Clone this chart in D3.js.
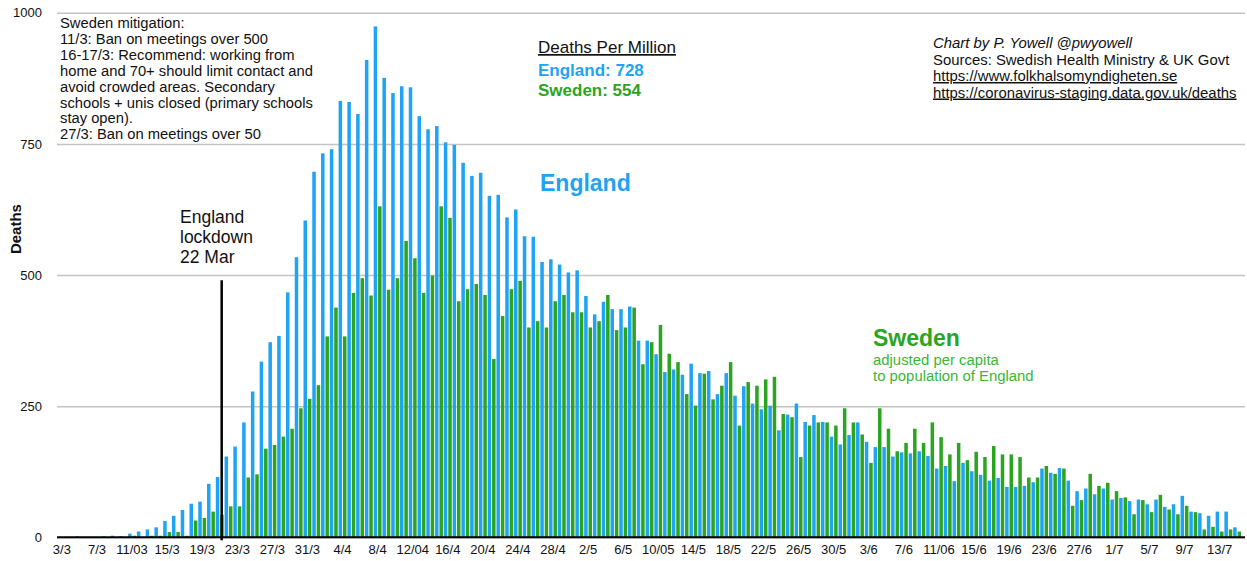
<!DOCTYPE html>
<html>
<head>
<meta charset="utf-8">
<script src="https://cdn.jsdelivr.net/npm/d3@7"></script>
<style>
  body { margin: 0; background: #fff; }
  svg { display: block; font-family: "Liberation Sans", Arial, Helvetica, sans-serif; }
</style>
</head>
<body>
<div id="chart"></div>
<script>
// daily deaths 3 Mar - 15 Jul 2020, Sweden scaled to England's population
const days = d3.timeDay.range(new Date(2020, 2, 3), new Date(2020, 6, 16));

const englandDeaths = [
    0, 0, 2, 0, 0, 2, 3, 2, 7, 11,
    15, 19, 31, 41, 52, 64, 68, 102, 115, 154,
    173, 219, 278, 335, 372, 384, 467, 534, 604, 697,
    732, 740, 832, 830, 807, 910, 974, 876, 847, 860,
    858, 803, 778, 784, 753, 748, 714, 689, 695, 651,
    653, 610, 625, 574, 573, 525, 530, 520, 505, 509,
    460, 425, 449, 435, 435, 440, 375, 375, 349, 315,
    320, 310, 331, 313, 317, 273, 313, 270, 288, 255,
    244, 251, 204, 234, 255, 220, 233, 220, 192, 177,
    195, 219, 182, 172, 172, 154, 162, 160, 164, 155,
    131, 136, 107, 142, 126, 119, 108, 113, 96, 96,
    98, 105, 131, 123, 132, 108, 88, 93, 82, 93,
    72, 75, 69, 72, 63, 72, 58, 63, 79, 49,
    46, 41, 49, 49, 19
];

const swedenDeaths = [
    0, 0, 0, 0, 0, 0, 0, 0, 3, 0,
    3, 3, 10, 10, 3, 32, 37, 49, 43, 59,
    59, 114, 120, 169, 176, 192, 207, 246, 264, 290,
    383, 438, 383, 466, 494, 461, 631, 472, 494, 565,
    532, 466, 499, 631, 609, 450, 473, 483, 462, 340,
    422, 473, 489, 400, 412, 400, 450, 462, 429, 429,
    400, 412, 462, 395, 400, 438, 330, 372, 405, 350,
    334, 273, 251, 312, 263, 289, 334, 213, 296, 289,
    301, 306, 235, 229, 153, 213, 219, 219, 213, 246,
    219, 196, 142, 246, 207, 164, 180, 207, 180, 219,
    191, 158, 180, 147, 163, 153, 174, 158, 158, 153,
    114, 114, 136, 121, 131, 60, 71, 121, 98, 104,
    88, 76, 44, 71, 48, 81, 53, 44, 60, 48,
    15, 20, 11, 15, 11
];

const tickLabels = ["3/3", "7/3", "11/03", "15/3", "19/3", "23/3", "27/3", "31/3", "4/4", "8/4",
    "12/04", "16/4", "20/4", "24/4", "28/4", "2/5", "6/5", "10/05", "14/5", "18/5", "22/5",
    "26/5", "30/5", "3/6", "7/6", "11/06", "15/6", "19/6", "23/6", "27/6", "1/7", "5/7",
    "9/7", "13/7"];

const yTicks = [0, 250, 500, 750, 1000];
const lockdownDay = new Date(2020, 2, 22);

const mitigationNotes = [
    "Sweden mitigation:",
    "11/3: Ban on meetings over 500",
    "16-17/3: Recommend: working from",
    "home and 70+ should limit contact and",
    "avoid crowded areas. Secondary",
    "schools + unis closed (primary schools",
    "stay open).",
    "27/3: Ban on meetings over 50"
];
const lockdownNote = ["England", "lockdown", "22 Mar"];
const perMillion = [
    { label: "England: 728", series: "england" },
    { label: "Sweden: 554", series: "sweden" }
];
const credits = [
    "Chart by P. Yowell @pwyowell",
    "Sources: Swedish Health Ministry & UK Govt",
    "https://www.folkhalsomyndigheten.se",
    "https://coronavirus-staging.data.gov.uk/deaths"
];

const colors = { england: "#1fa3f5", sweden: "#2ba41f" };

const chartWidth = 1247, chartHeight = 561;
const plotLeft = 57.5, plotRight = 1241.5, plotTop = 12.8, plotBottom = 537.3;

const svg = d3.select("#chart").append("svg")
    .attr("width", chartWidth)
    .attr("height", chartHeight);

let x = d3.scaleBand()
    .domain(days)
    .range([plotLeft, plotRight])
    .padding(0);

let xInner = d3.scaleBand()
    .domain(["england", "sweden"])
    .range([0, x.step()])
    .paddingInner(0.2)
    .paddingOuter(0.1);

let y = d3.scaleLinear()
    .domain([0, 1000])
    .range([plotBottom, plotTop]);

// gridlines + y labels
let yAxis = d3.axisLeft(y)
    .tickValues(yTicks)
    .tickFormat(d3.format("d"))
    .tickSize(-(1245 - 57))
    .tickPadding(15);

let yG = svg.append("g")
    .attr("transform", "translate(57,0)")
    .call(yAxis);
yG.select(".domain").remove();
yG.selectAll(".tick line")
    .attr("stroke", "#c4c4c4")
    .attr("stroke-width", 1.5);
yG.selectAll(".tick text")
    .attr("fill", "#111")
    .style("font-size", "13px");

svg.append("text")
    .attr("transform", `translate(21,${y(500) - 46}) rotate(-90)`)
    .attr("text-anchor", "middle")
    .style("font-size", "15px")
    .style("font-weight", "bold")
    .attr("fill", "#111")
    .text("Deaths");

// bars
let rows = days.map((d, i) => ({ day: d, england: englandDeaths[i], sweden: swedenDeaths[i] }));

let groups = svg.append("g").selectAll("g")
    .data(rows)
    .enter().append("g")
    .attr("transform", d => `translate(${x(d.day)},0)`);

groups.selectAll("rect")
    .data(d => ["england", "sweden"].map(k => ({ key: k, value: d[k] })))
    .enter().append("rect")
    .attr("x", d => xInner(d.key))
    .attr("width", xInner.bandwidth())
    .attr("y", d => y(d.value))
    .attr("height", d => y(0) - y(d.value))
    .attr("fill", d => colors[d.key]);

// x axis
let xAxis = d3.axisBottom(x)
    .tickValues(days.filter((d, i) => i % 4 === 0))
    .tickFormat((d, i) => tickLabels[i])
    .tickSize(0)
    .tickPadding(7);

let xG = svg.append("g")
    .attr("transform", `translate(0,${plotBottom})`)
    .call(xAxis);
xG.select(".domain").remove();
xG.selectAll(".tick text")
    .attr("fill", "#111")
    .style("font-size", "13px");

svg.append("line")
    .attr("x1", 57).attr("x2", 1245)
    .attr("y1", plotBottom).attr("y2", plotBottom)
    .attr("stroke", "#000")
    .attr("stroke-width", 2);

// lockdown marker
let lockX = x(lockdownDay) - x.step() * 0.28;
svg.append("line")
    .attr("x1", lockX).attr("x2", lockX)
    .attr("y1", y(490)).attr("y2", plotBottom + 3)
    .attr("stroke", "#000")
    .attr("stroke-width", 2.5);

svg.append("g").selectAll("text")
    .data(lockdownNote)
    .enter().append("text")
    .attr("x", 180)
    .attr("y", (d, i) => 223 + i * 20)
    .style("font-size", "17.5px")
    .attr("fill", "#111")
    .text(d => d);

// notes
svg.append("g").selectAll("text")
    .data(mitigationNotes)
    .enter().append("text")
    .attr("x", 60)
    .attr("y", (d, i) => 28 + i * 15.9)
    .style("font-size", "14.75px")
    .attr("fill", "#111")
    .text(d => d);

svg.append("text")
    .attr("x", 538).attr("y", 53)
    .style("font-size", "17px")
    .style("text-decoration", "underline")
    .attr("fill", "#111")
    .text("Deaths Per Million");

svg.append("g").selectAll("text")
    .data(perMillion)
    .enter().append("text")
    .attr("x", 538)
    .attr("y", (d, i) => 76 + i * 20)
    .style("font-size", "17px")
    .style("font-weight", "bold")
    .attr("fill", d => colors[d.series])
    .text(d => d.label);

svg.append("text")
    .attr("x", 540).attr("y", 191)
    .style("font-size", "23px")
    .style("font-weight", "bold")
    .attr("fill", colors.england)
    .text("England");

svg.append("text")
    .attr("x", 873).attr("y", 346)
    .style("font-size", "23px")
    .style("font-weight", "bold")
    .attr("fill", colors.sweden)
    .text("Sweden");

svg.append("g").selectAll("text")
    .data(["adjusted per capita", "to population of England"])
    .enter().append("text")
    .attr("x", 873)
    .attr("y", (d, i) => 365 + i * 16)
    .style("font-size", "14.9px")
    .attr("fill", "#3db536")
    .text(d => d);

svg.append("g").selectAll("text")
    .data(credits)
    .enter().append("text")
    .attr("x", 933)
    .attr("y", (d, i) => 48 + i * 16.5)
    .style("font-size", "14.9px")
    .style("font-style", (d, i) => i === 0 ? "italic" : "normal")
    .style("text-decoration", (d, i) => i >= 2 ? "underline" : "none")
    .attr("fill", "#111")
    .text(d => d);
</script>
</body>
</html>
